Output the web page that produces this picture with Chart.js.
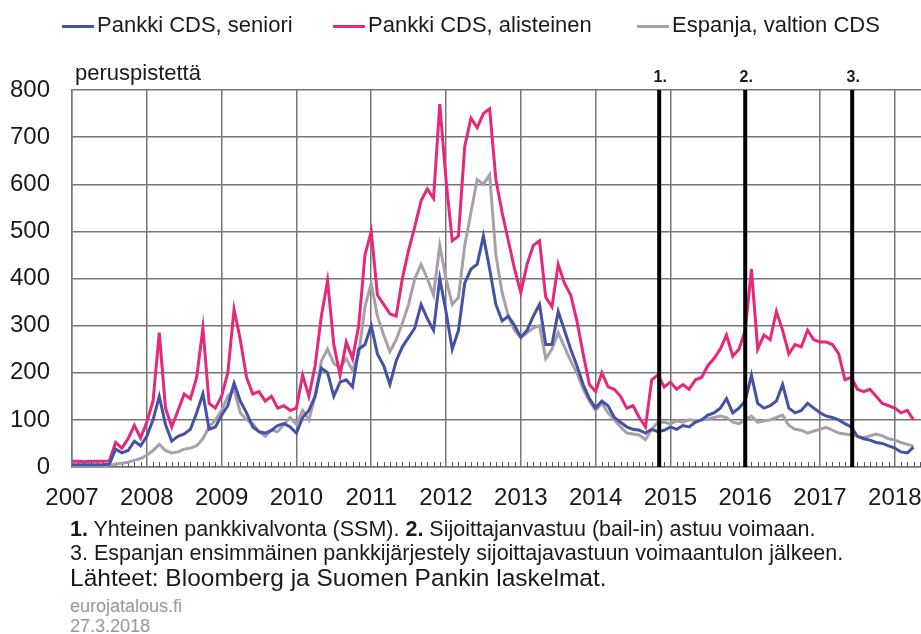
<!DOCTYPE html>
<html lang="fi">
<head>
<meta charset="UTF-8">
<title>Pankki CDS</title>
<script src="https://cdn.jsdelivr.net/npm/chart.js"></script>
<style>
  body { margin: 0; background: #fff; font-family: "Liberation Sans", Arial, sans-serif; color: #1a1a1a; }
  #wrap { position: relative; width: 921px; height: 634px; overflow: hidden; }
  #cdsChart { position: absolute; left: 0; top: 0; }
  .txt { position: absolute; white-space: nowrap; line-height: 1; }
  .legend { top: 14px; font-size: 22px; }
  .legend i { display: inline-block; width: 32px; height: 3px; margin-right: 3px; vertical-align: middle; }
  .unit { left: 75px; top: 62px; font-size: 22px; }
  .note { left: 70px; font-size: 21.5px; }
  .src { left: 70px; top: 566px; font-size: 24.5px; }
  .site { left: 70px; font-size: 18px; color: #999; }
</style>
</head>
<body>
<div id="wrap">
  <canvas id="cdsChart" width="921" height="520"></canvas>
  <div class="txt legend" style="left:62px"><i style="background:#4452a6"></i>Pankki CDS, seniori</div>
  <div class="txt legend" style="left:333px"><i style="background:#e5287a"></i>Pankki CDS, alisteinen</div>
  <div class="txt legend" style="left:637px"><i style="background:#a99fab"></i>Espanja, valtion CDS</div>
  <div class="txt unit">peruspistettä</div>
  <div class="txt note" style="top:519px"><b>1.</b> Yhteinen pankkivalvonta (SSM). <b>2.</b> Sijoittajanvastuu (bail-in) astuu voimaan.</div>
  <div class="txt note" style="top:543px">3. Espanjan ensimmäinen pankkijärjestely sijoittajavastuun voimaantulon jälkeen.</div>
  <div class="txt src">Lähteet: Bloomberg ja Suomen Pankin laskelmat.</div>
  <div class="txt site" style="top:597px">eurojatalous.fi</div>
  <div class="txt site" style="top:617px">27.3.2018</div>
</div>

<script>
// monthly observations starting January 2007
const startYear = 2007;
const yearTicks = [2007, 2008, 2009, 2010, 2011, 2012, 2013, 2014, 2015, 2016, 2017, 2018];

const senior = [
  5, 5, 5, 5, 5, 5, 6, 38, 30, 35, 55, 45,
  65, 100, 150, 90, 55, 65, 70, 80, 115, 155, 80, 85,
  110, 130, 178, 140, 115, 85, 75, 72, 78, 88, 92, 85,
  72, 105, 120, 150, 210, 200, 150, 180, 185, 170, 250, 260,
  300, 240, 215, 175, 225, 255, 275, 295, 345, 315, 290, 400,
  330, 250, 290, 390, 420, 430, 490, 420, 345, 310, 320, 300,
  275, 290, 320, 345, 260, 260, 330, 290, 250, 215, 175, 145,
  125, 140, 130, 105, 95, 85, 80, 78, 72, 80, 75, 78,
  85, 80, 88, 85, 95, 100, 110, 115, 125, 145, 115, 125,
  140, 195, 135, 125, 130, 140, 175, 125, 115, 120, 135, 125,
  115, 108, 105, 100, 92, 85, 65, 60, 57, 52, 50, 45,
  40, 32, 30, 42
];

const subordinated = [
  12, 12, 11, 12, 12, 12, 13, 52, 40, 60, 88, 62,
  95, 140, 285, 125, 85, 120, 155, 145, 190, 295, 135, 125,
  150, 200, 335, 270, 190, 155, 160, 140, 150, 125, 130, 120,
  125, 195, 150, 215, 320, 395, 260, 195, 265, 230, 300, 450,
  500, 365, 345, 325, 320, 400, 460, 510, 565, 590, 570, 770,
  610, 480, 490, 680, 740, 720, 750, 760, 610, 540, 480, 420,
  370, 430, 470, 480, 360, 340, 430, 390, 365, 310, 240, 175,
  160, 200, 170, 165, 150, 125, 130, 105, 85, 185, 195, 170,
  180, 165, 175, 165, 185, 190, 215, 230, 250, 280, 235, 250,
  290, 420, 250, 280, 270, 330, 290, 240, 260, 255, 290, 270,
  265, 265, 260, 240, 185, 190, 165, 160, 165, 150, 135, 130,
  125, 115, 120, 100
];

const spain = [
  3, 3, 3, 3, 3, 3, 4, 6, 8, 10, 14, 18,
  25, 35, 48, 35, 30, 32, 38, 40, 45, 60, 85, 100,
  120, 150, 165, 115, 100, 92, 75, 65, 78, 75, 90, 105,
  90, 120, 100, 150, 225, 250, 220, 210, 230, 205, 240, 340,
  390, 320, 280, 245, 270, 305, 345, 400, 430, 400, 365, 470,
  400, 345, 360, 470, 540, 610, 600, 620, 450, 370, 320, 290,
  275, 285, 295, 300, 230, 250, 285, 255, 225, 200, 165, 140,
  120, 135, 115, 100, 85, 72, 70, 68, 58, 80, 95, 95,
  92, 98, 95, 100, 98, 100, 102, 105, 108, 105, 95, 92,
  100, 108, 95, 98, 100, 105, 110, 88, 80, 78, 72, 76,
  80, 84, 78, 72, 70, 68, 65, 62, 66, 70, 66, 60,
  57, 52, 48, 44
];

// event markers (decimal year) and their labels
const eventDates = [2014.85, 2016.0, 2017.43];
const eventLabels = ['1.', '2.', '3.'];

const fontFamily = '"Liberation Sans", Arial, sans-serif';
const gridColor = '#767676';

function toPoints(values) {
  return values.map((v, i) => ({ x: startYear + i / 12, y: v }));
}

const decorPlugin = {
  id: 'decor',
  beforeDatasetsDraw(chart) {
    // small monthly ticks along the bottom axis
    const { ctx, chartArea, scales: { x } } = chart;
    ctx.save();
    ctx.strokeStyle = '#555';
    ctx.lineWidth = 1;
    ctx.beginPath();
    for (let m = 1; m < 140; m++) {
      const v = startYear + m / 12;
      if (v > x.max) break;
      if (m % 12 === 0) continue;
      const px = Math.round(x.getPixelForValue(v)) + 0.5;
      ctx.moveTo(px, chartArea.bottom);
      ctx.lineTo(px, chartArea.bottom - 5);
    }
    ctx.stroke();
    ctx.restore();
  },
  afterDatasetsDraw(chart) {
    const { ctx, chartArea, scales: { x } } = chart;
    ctx.save();
    ctx.strokeStyle = '#000';
    ctx.lineWidth = 4;
    ctx.fillStyle = '#1a1a1a';
    ctx.font = 'bold 16px ' + fontFamily;
    ctx.textAlign = 'center';
    ctx.textBaseline = 'alphabetic';
    eventDates.forEach((d, i) => {
      const px = x.getPixelForValue(d);
      ctx.beginPath();
      ctx.moveTo(px, chartArea.top);
      ctx.lineTo(px, chartArea.bottom);
      ctx.stroke();
      ctx.fillText(eventLabels[i], px + 1, chartArea.top - 8);
    });
    ctx.restore();
  }
};

const ctx = document.getElementById('cdsChart').getContext('2d');
new Chart(ctx, {
  type: 'line',
  data: {
    datasets: [
      { label: 'Pankki CDS, seniori', data: toPoints(senior), borderColor: '#4452a6' },
      { label: 'Pankki CDS, alisteinen', data: toPoints(subordinated), borderColor: '#e5287a' },
      { label: 'Espanja, valtion CDS', data: toPoints(spain), borderColor: '#a99fab' }
    ]
  },
  options: {
    responsive: false,
    animation: false,
    layout: { padding: { top: 90, left: 0, right: 0, bottom: 0 } },
    elements: {
      point: { radius: 0 },
      line: { borderWidth: 3, tension: 0, fill: false }
    },
    plugins: {
      legend: { display: false },
      tooltip: { enabled: false }
    },
    scales: {
      x: {
        type: 'linear',
        min: 2007,
        max: 2018.35,
        afterBuildTicks: s => { s.ticks = yearTicks.map(v => ({ value: v })); },
        afterFit: s => { s.height = 53; s.paddingLeft = 0; s.paddingRight = 0; },
        grid: { color: gridColor, lineWidth: 1.5, drawTicks: false },
        border: { color: gridColor, width: 1.5 },
        ticks: {
          autoSkip: false,
          maxRotation: 0,
          padding: 17,
          color: '#1a1a1a',
          font: { size: 24, family: fontFamily },
          callback: v => String(v)
        }
      },
      y: {
        min: 0,
        max: 800,
        afterFit: s => { s.width = 72; },
        grid: { color: gridColor, lineWidth: 1.5, drawTicks: false },
        border: { color: gridColor, width: 1.5 },
        ticks: {
          stepSize: 100,
          padding: 22,
          color: '#1a1a1a',
          font: { size: 24, family: fontFamily }
        }
      }
    }
  },
  plugins: [decorPlugin]
});
</script>
</body>
</html>
